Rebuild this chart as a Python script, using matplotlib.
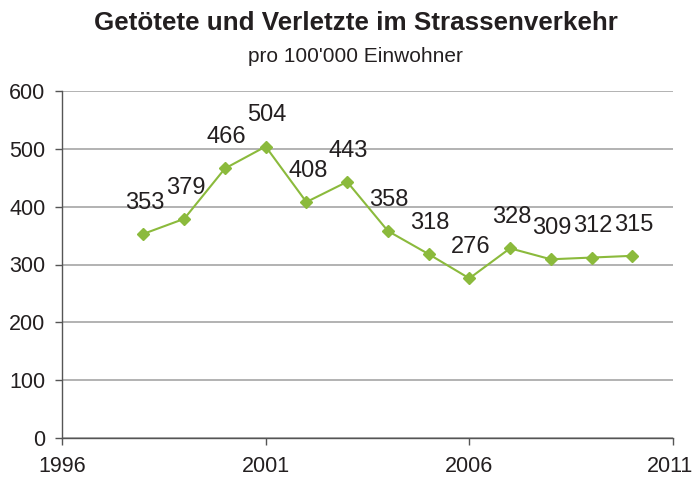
import matplotlib
matplotlib.use("Agg")
import matplotlib.pyplot as plt
from matplotlib.transforms import ScaledTranslation

years = [1998, 1999, 2000, 2001, 2002, 2003, 2004, 2005, 2006, 2007, 2008, 2009, 2010]
values = [353, 379, 466, 504, 408, 443, 358, 318, 276, 328, 309, 312, 315]
xticks = [1996, 2001, 2006, 2011]
yticks = [0, 100, 200, 300, 400, 500, 600]

plt.rcParams['font.family'] = ['Liberation Sans', 'DejaVu Sans']

fig = plt.figure(figsize=(6.95, 4.79), dpi=100)
ax = fig.add_axes([62/695, 1-438/479, (673-62)/695, (438-91)/479])

green = '#8BBA3C'
ax.plot(years, values, color=green, lw=1.5, marker='D', markersize=6.5, zorder=3)
for x, v in zip(years, values):
    ax.annotate(str(v), (x, v), xytext=(1, 22.5), textcoords='offset points',
                ha='center', va='center', fontsize=17, color='#231F20')

ax.set_xlim(1996, 2011)
ax.set_ylim(0, 600)
ax.set_xticks(xticks)
ax.set_yticks(yticks)
ax.yaxis.grid(True, color='#A6A6A6', lw=1.2)
ax.set_axisbelow(True)
for s in ['top', 'right']:
    ax.spines[s].set_visible(False)
for s in ['left', 'bottom']:
    ax.spines[s].set_color('#555555')
    ax.spines[s].set_linewidth(1.0)
ax.tick_params(axis='both', colors='#555555', labelcolor='#231F20', labelsize=15.5, length=5, width=1.0)
ax.tick_params(axis='y', pad=7)
ax.tick_params(axis='x', pad=8)

lbl = ax.get_xticklabels()[-1]
lbl.set_transform(lbl.get_transform() + ScaledTranslation(-3/100, 0, fig.dpi_scale_trans))

fig.text(0.512, 1-23/479, 'Getötete und Verletzte im Strassenverkehr', ha='center', va='center',
         fontsize=18.7, fontweight='bold', color='#231F20')
fig.text(0.512, 1-56/479, "pro 100'000 Einwohner", ha='center', va='center',
         fontsize=15, color='#231F20')

fig.savefig('out.png', dpi=100)
